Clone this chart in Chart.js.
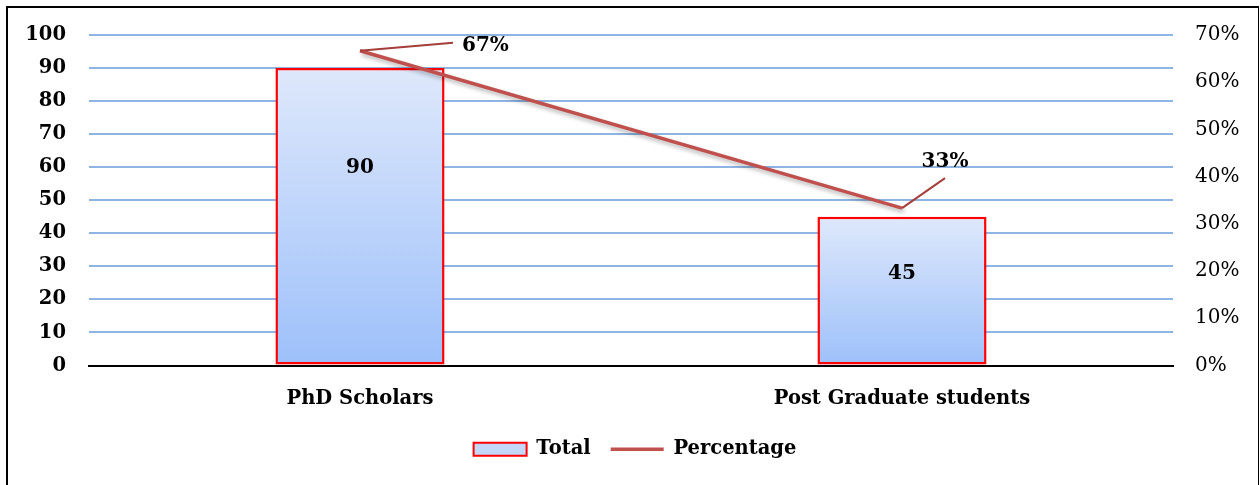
<!DOCTYPE html>
<html>
<head>
<meta charset="utf-8">
<script src="https://cdn.jsdelivr.net/npm/chart.js@4/dist/chart.umd.min.js"></script>
<style>
  html, body { margin: 0; padding: 0; background: #fff; }
  #wrap { position: relative; width: 1260px; height: 485px; overflow: hidden; }
  #frame { position: absolute; left: 6px; top: 6px; width: 1250px; height: 600px; border: 2px solid #000; border-right-width: 1.5px; pointer-events: none; }
  canvas { position: absolute; left: 0; top: 0; }
</style>
</head>
<body>
<div id="wrap">
  <canvas id="chart-area" width="1260" height="485"></canvas>
  <div id="frame"></div>
</div>
<script>
var arrLabel = ["PhD Scholars", "Post Graduate students"];
var arrTotal = [90, 45];
var arrPercent = [66.67, 33.33];
var arrPercentText = ["67%", "33%"];
var leftTicks = [0, 10, 20, 30, 40, 50, 60, 70, 80, 90, 100];
var rightTicks = [0, 10, 20, 30, 40, 50, 60, 70];

var serif = "'DejaVu Serif', 'Liberation Serif', serif";
var gridBlue = '#8DB4E2';
var lineRed = '#C0504D';

function barGradient(c) {
    var chart = c.chart;
    if (!chart.chartArea || c.raw === undefined) return '#C3D7F9';
    var top = chart.scales.y.getPixelForValue(c.raw);
    var bottom = chart.scales.y.getPixelForValue(0);
    var g = chart.ctx.createLinearGradient(0, top, 0, bottom);
    g.addColorStop(0, '#DEE8FB');
    g.addColorStop(1, '#9DC0FA');
    return g;
}

// shadow under the line, labels in bars, leader lines for percentages
var labelPlugin = {
    id: 'labels',
    beforeDatasetDraw: function (chart, args) {
        if (args.meta.type === 'line') {
            var ctx = chart.ctx;
            ctx.save();
            ctx.shadowColor = 'rgba(0,0,0,0.3)';
            ctx.shadowBlur = 4;
            ctx.shadowOffsetX = 2;
            ctx.shadowOffsetY = 3;
        }
    },
    afterDatasetDraw: function (chart, args) {
        if (args.meta.type === 'line') chart.ctx.restore();
    },
    afterDatasetsDraw: function (chart) {
        var ctx = chart.ctx;
        ctx.save();
        ctx.fillStyle = '#000';
        ctx.font = 'bold 20px ' + serif;
        ctx.textAlign = 'center';
        ctx.textBaseline = 'middle';
        var frac = [0.338, 0.385];
        chart.getDatasetMeta(0).data.forEach(function (bar, i) {
            ctx.fillText(String(arrTotal[i]), bar.x, bar.y + (bar.base - bar.y) * frac[i]);
        });
        var offs = [{lx: 93, ly: -8, tx: 102, ty: -5, align: 'left'},
                    {lx: 43, ly: -30, tx: 43, ty: -46, align: 'center'}];
        chart.getDatasetMeta(1).data.forEach(function (pt, i) {
            var o = offs[i];
            ctx.strokeStyle = '#A33E3B';
            ctx.lineWidth = 2;
            ctx.beginPath();
            ctx.moveTo(pt.x, pt.y);
            ctx.lineTo(pt.x + o.lx, pt.y + o.ly);
            ctx.stroke();
            ctx.textAlign = o.align;
            ctx.fillText(arrPercentText[i], pt.x + o.tx, pt.y + o.ty);
        });
        ctx.restore();
    }
};

var configBar = {
    type: 'bar',
    data: {
        labels: arrLabel,
        datasets: [
            {
                type: 'bar',
                label: 'Total',
                data: arrTotal,
                yAxisID: 'y',
                backgroundColor: barGradient,
                borderColor: '#FF0000',
                borderWidth: 2.5,
                borderSkipped: false,
                barPercentage: 0.312,
                categoryPercentage: 1,
                order: 2
            }, {
                type: 'line',
                label: 'Percentage',
                data: arrPercent,
                yAxisID: 'y1',
                borderColor: lineRed,
                borderWidth: 3.5,
                pointRadius: 0,
                fill: false,
                tension: 0,
                order: 1
            }]
    },
    options: {
        responsive: false,
        animation: false,
        layout: {padding: {left: 10, right: 0, top: 35, bottom: 16}},
        plugins: {
            title: {display: false},
            tooltip: {enabled: false},
            legend: {
                position: 'bottom',
                labels: {
                    usePointStyle: true,
                    pointStyleWidth: 53,
                    boxHeight: 13,
                    padding: 20,
                    color: '#000',
                    font: {family: serif, size: 19.5, weight: 'bold'},
                    generateLabels: function () {
                        return [
                            {text: 'Total', pointStyle: 'rect', fillStyle: '#C3D7F9', strokeStyle: '#FF0000', lineWidth: 2, datasetIndex: 0},
                            {text: 'Percentage', pointStyle: 'line', fillStyle: lineRed, strokeStyle: lineRed, lineWidth: 3.5, datasetIndex: 1}
                        ];
                    }
                }
            }
        },
        scales: {
            x: {
                grid: {display: false},
                border: {display: true, color: '#000', width: 2},
                ticks: {color: '#000', padding: 14, font: {family: serif, size: 19.5, weight: 'bold'}},
                afterFit: function (s) { s.height = 54; }
            },
            y: {
                position: 'left',
                min: 0,
                max: 100,
                afterBuildTicks: function (s) { s.ticks = leftTicks.map(function (v) { return {value: v}; }); },
                grid: {
                    drawTicks: false,
                    color: function (c) { return c.tick && c.tick.value === 0 ? '#000' : gridBlue; },
                    lineWidth: 2
                },
                border: {display: false},
                ticks: {color: '#000', padding: 23, font: {family: serif, size: 19.5, weight: 'bold'}},
                afterFit: function (s) { s.width = 79; }
            },
            y1: {
                position: 'right',
                min: 0,
                max: 70,
                afterBuildTicks: function (s) { s.ticks = rightTicks.map(function (v) { return {value: v}; }); },
                grid: {display: false, drawTicks: false},
                border: {display: false},
                ticks: {
                    color: '#000', padding: 22,
                    font: {family: serif, size: 20},
                    callback: function (v) { return v + '%'; }
                },
                afterFit: function (s) { s.width = 87; }
            }
        }
    },
    plugins: [labelPlugin]
};

var myChartBar = document.getElementById("chart-area").getContext("2d");
var myBar = new Chart(myChartBar, configBar);
</script>
</body>
</html>
